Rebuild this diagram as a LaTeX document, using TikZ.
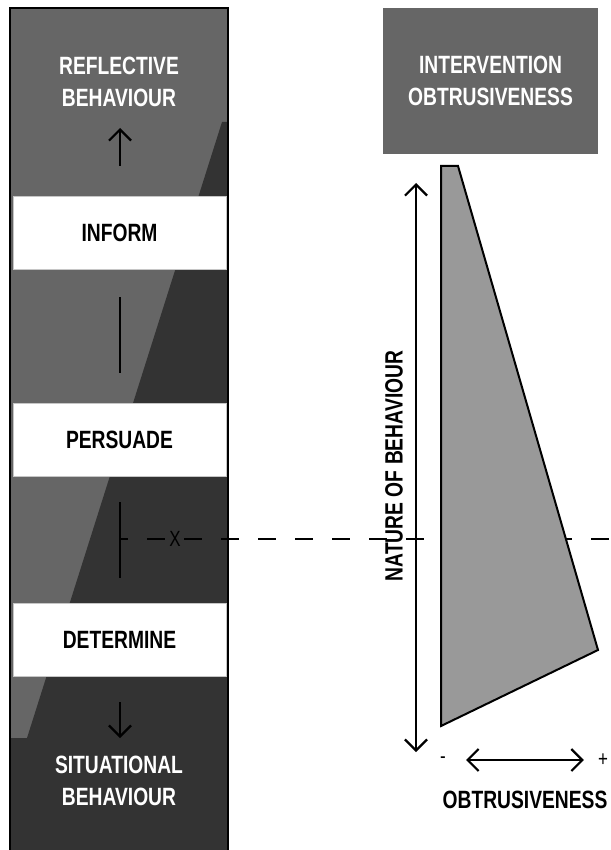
\documentclass[tikz,border=0pt]{standalone}
\usepackage{fontspec}
\setmainfont{Liberation Sans}[FakeStretch=0.77]
\usetikzlibrary{arrows.meta, positioning}
\definecolor{midgrey}{HTML}{666666}
\definecolor{darkgrey}{HTML}{333333}
\definecolor{wedgegrey}{HTML}{999999}
\tikzset{
    bigfont/.style={font=\fontsize{25}{32}\selectfont\bfseries},
    band/.style={bigfont, fill=white, draw=gray!45, line width=0.8pt, minimum width=213pt, minimum height=73pt, inner sep=0pt},
    heading/.style={bigfont, text=white, align=center, inner sep=0pt},
    titlebox/.style={heading, fill=midgrey, minimum width=215pt, minimum height=146pt},
    sign/.style={font=\fontsize{22}{22}\selectfont, inner sep=0pt},
    barb/.tip={Straight Barb[length=11pt, width=22pt, line width=2.2pt]},
    axis/.style={line width=2.2pt},
}
\begin{document}
\begin{tikzpicture}[x=1pt, y=-1pt]
    \useasboundingbox (0,0) rectangle (610,850);

    % left column: two shades split by a slanted edge
    \fill[midgrey] (10,8) rectangle (228,850);
    \fill[darkgrey] (222,122) -- (228,122) -- (228,850) -- (10,850) -- (10,738) -- (27,738) -- cycle;
    \draw[line width=2.2pt] (10,852) -- (10,8) -- (228,8) -- (228,852);

    \node[heading] (reflective) at (119,82) {REFLECTIVE\\BEHAVIOUR};
    \node[band] (inform) at (119.5,233) {INFORM};
    \node[band] (persuade) at (119.5,439.5) {PERSUADE};
    \node[band] (determine) at (119.5,640) {DETERMINE};
    \node[heading] (situational) at (119,781) {SITUATIONAL\\BEHAVIOUR};

    \coordinate (up0) at (120,166);
    \coordinate (up1) at (120,128);
    \coordinate (bar0) at (120,297);
    \coordinate (bar1) at (120,373);
    \coordinate (tick0) at (120,502);
    \coordinate (tick1) at (120,578);
    \coordinate (tickmid) at (120,539);
    \coordinate (dn0) at (120,702);
    \coordinate (dn1) at (120,738);

    \draw[axis, -barb] (up0) -- (up1);
    \draw[axis] (bar0) -- (bar1);
    \draw[axis] (tick0) -- (tick1);
    \draw[axis] (tickmid) -- ++(8,0);
    \draw[axis, -barb] (dn0) -- (dn1);

    % level of the intervention
    \coordinate (cut0) at (147,539);
    \coordinate (cut1) at (612,539);
    \draw[line width=2.2pt, dash pattern=on 18pt off 19pt] (cut0) -- (cut1);
    \node[sign] (cross) at (175,539) {X};

    % right side
    \node[titlebox] (intervention) at (490.5,81) {INTERVENTION\\OBTRUSIVENESS};

    \filldraw[fill=wedgegrey, line width=2pt] (441,166) -- (458,166) -- (598,650) -- (441,726) -- cycle;

    \coordinate (nat0) at (416,752);
    \coordinate (nat1) at (416,183);
    \draw[axis, barb-barb] (nat0) -- (nat1);
    \node[bigfont, rotate=90, inner sep=0pt] (nature) at (394,466) {NATURE OF BEHAVIOUR};

    \node[sign] (minus) at (443,760) {-};
    \node[sign] (plus) at (603,760) {+};
    \draw[axis, barb-barb] ([xshift=20pt]minus.east) -- ([xshift=-14pt]plus.west);
    \node[bigfont, inner sep=0pt] (obtr) at (525,800) {OBTRUSIVENESS};
\end{tikzpicture}
\end{document}
